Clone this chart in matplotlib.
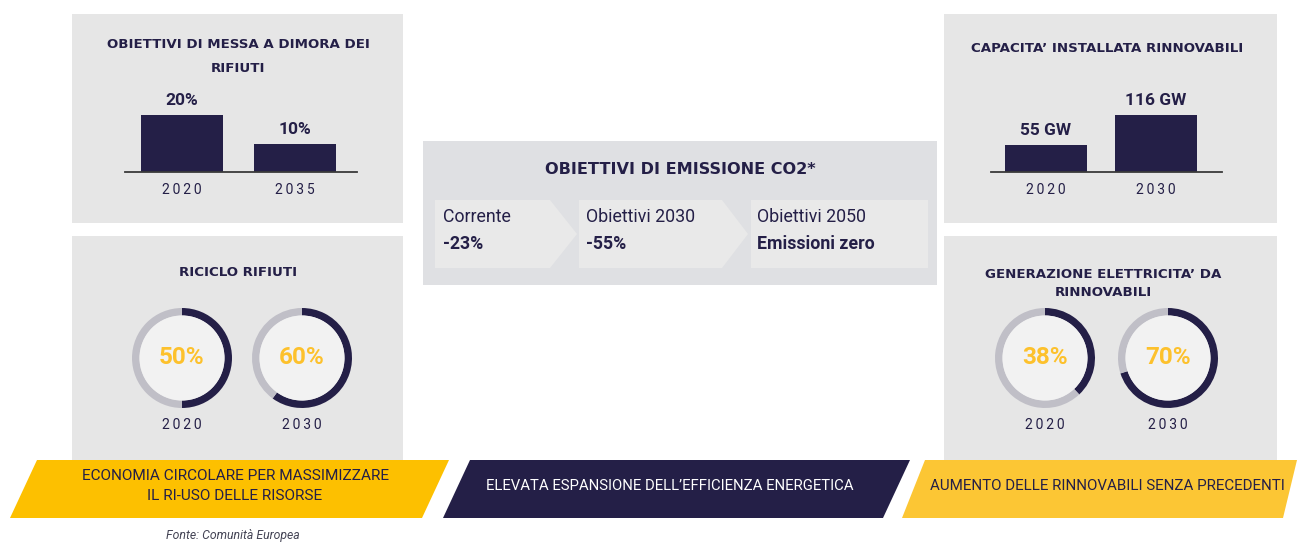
import matplotlib
matplotlib.use("Agg")
import matplotlib.pyplot as plt
from matplotlib.patches import Rectangle, Polygon, Circle

# ─────────────────────────────────────────────────────────
# Data
# ─────────────────────────────────────────────────────────
landfill_years = ["2020", "2035"]
landfill_values = [20, 10]
landfill_labels = ["20%", "10%"]

capacity_years = ["2020", "2030"]
capacity_values = [55, 116]
capacity_labels = ["55 GW", "116 GW"]

recycle_years = ["2020", "2030"]
recycle_values = [50, 60]

renew_gen_years = ["2020", "2030"]
renew_gen_values = [38, 70]

co2_steps = ["Corrente", "Obiettivi 2030", "Obiettivi 2050"]
co2_targets = ["-23%", "-55%", "Emissioni zero"]

banner_texts = [
    "ECONOMIA CIRCOLARE PER MASSIMIZZARE\nIL RI-USO DELLE RISORSE",
    "ELEVATA ESPANSIONE DELL\u2019EFFICIENZA ENERGETICA",
    "AUMENTO DELLE RINNOVABILI SENZA PRECEDENTI",
]

# ─────────────────────────────────────────────────────────
# Style
# ─────────────────────────────────────────────────────────
NAVY = "#241f47"
PANEL = "#e6e6e6"
PANEL_MID = "#dfe0e3"
BOX = "#e9e9e9"
RING = "#c0bfc7"
INNER = "#f2f2f2"
YELLOW_L = "#fdc000"
YELLOW_R = "#fcc634"
NUM_YELLOW = "#fdc12c"

W, H = 1297, 543
TITLE_FONT = ["DejaVu Sans"]
BODY = ["Roboto", "DejaVu Sans"]

fig = plt.figure(figsize=(W / 100, H / 100), dpi=100)
fig.patch.set_facecolor("white")
bg = fig.add_axes([0, 0, 1, 1])
bg.set_xlim(0, W)
bg.set_ylim(H, 0)
bg.axis("off")
renderer = fig.canvas.get_renderer()


def fax(x0, y0, x1, y1):
    """Axes from pixel box (top-left origin)."""
    return fig.add_axes([x0 / W, (H - y1) / H, (x1 - x0) / W, (y1 - y0) / H])


def spaced(s):
    return "\u2009".join(s)


def fit_width(t, target):
    # shrink/grow a text so its widest line is about `target` px
    w = t.get_window_extent(renderer).width
    t.set_fontsize(t.get_fontsize() * target / w)


# panels
for x0, y0, x1, y1 in [(72, 14, 403, 223), (72, 236, 403, 462),
                       (944, 14, 1277, 223), (944, 236, 1277, 462)]:
    bg.add_patch(Rectangle((x0, y0), x1 - x0, y1 - y0, color=PANEL, lw=0))
bg.add_patch(Rectangle((423, 141), 514, 144, color=PANEL_MID, lw=0))

# titles
title_kw = dict(ha="center", va="center", fontsize=9.6, fontweight="bold",
                color=NAVY, family=TITLE_FONT)
bg.text(238, 44, "OBIETTIVI DI MESSA A DIMORA DEI", **title_kw)
bg.text(238, 69, "RIFIUTI", **title_kw)
bg.text(1107, 48, "CAPACITA\u2019 INSTALLATA RINNOVABILI", **title_kw)
bg.text(238, 273, "RICICLO RIFIUTI", **title_kw)
bg.text(1103, 274, "GENERAZIONE ELETTRICITA\u2019 DA", **title_kw)
bg.text(1103, 293, "RINNOVABILI", **title_kw)


# ─────────────────────────────────────────────────────────
# Bar charts
# ─────────────────────────────────────────────────────────
def bar_chart(box, xlim, width, years, values, labels):
    ax = fax(*box)
    ax.set_facecolor("none")
    ax.bar(range(len(values)), values, width=width, color=NAVY)
    ax.set_xlim(*xlim)
    ax.set_ylim(0, max(values))
    for s in ["top", "right", "left"]:
        ax.spines[s].set_visible(False)
    ax.spines["bottom"].set_color("#3a3a3a")
    ax.spines["bottom"].set_linewidth(1.3)
    ax.set_yticks([])
    ax.set_xticks(range(len(values)))
    ax.set_xticklabels([spaced(y) for y in years], fontsize=10, color=NAVY,
                       family=BODY)
    ax.tick_params(axis="x", length=0, pad=8)
    for i, (v, lab) in enumerate(zip(values, labels)):
        ax.annotate(lab, (i, v), xytext=(0, 5), textcoords="offset points",
                    ha="center", va="bottom", fontsize=12.5, fontweight="bold",
                    color=NAVY, family=BODY, annotation_clip=False)


bar_chart((125, 115, 357, 172), (-0.504, 1.549), 0.72,
          landfill_years, landfill_values, landfill_labels)
bar_chart((991, 115, 1222, 172), (-0.5, 1.6), 0.745,
          capacity_years, capacity_values, capacity_labels)


# ─────────────────────────────────────────────────────────
# Donuts
# ─────────────────────────────────────────────────────────
def donut(cx, cy, value, year, r=50):
    ax = fax(cx - r, cy - r, cx + r, cy + r)
    ax.pie([value, 100 - value], colors=[NAVY, RING], startangle=90,
           counterclock=False, radius=1, wedgeprops=dict(width=0.15, lw=0))
    ax.add_patch(Circle((0, 0), 0.85, color=INNER, lw=0))
    ax.set_xlim(-1, 1)
    ax.set_ylim(-1, 1)
    ax.set_aspect("auto")
    ax.axis("off")
    ax.text(0, 0, f"{value}%", ha="center", va="center", fontsize=17.5,
            fontweight="bold", color=NUM_YELLOW, family=BODY)
    bg.text(cx, cy + 67, spaced(year), ha="center", va="center", fontsize=10,
            color=NAVY, family=BODY)


for cx, v, y in zip([182, 302], recycle_values, recycle_years):
    donut(cx, 358, v, y)
for cx, v, y in zip([1045, 1168], renew_gen_values, renew_gen_years):
    donut(cx, 358, v, y)

# ─────────────────────────────────────────────────────────
# CO2 panel
# ─────────────────────────────────────────────────────────
bg.text(680, 170, "OBIETTIVI DI EMISSIONE CO2*", ha="center", va="center",
        fontsize=11.6, fontweight="bold", color=NAVY, family=TITLE_FONT)
top, bot = 200, 268
mid = (top + bot) / 2
shapes = [
    [(435, top), (550, top), (577, mid), (550, bot), (435, bot)],
    [(579, top), (722, top), (748, mid), (722, bot), (579, bot)],
    [(751, top), (928, top), (928, bot), (751, bot)],
]
text_x = [443, 586, 757]
for pts, tx, step, tgt in zip(shapes, text_x, co2_steps, co2_targets):
    bg.add_patch(Polygon(pts, closed=True, color=BOX, lw=0))
    bg.text(tx, 217, step, ha="left", va="center", fontsize=12.8,
            color=NAVY, family=BODY)
    bg.text(tx, 244, tgt, ha="left", va="center", fontsize=12.8,
            fontweight="bold", color=NAVY, family=BODY)

# ─────────────────────────────────────────────────────────
# Banners
# ─────────────────────────────────────────────────────────
b_top, b_bot = 460, 518
banners = [
    ([(37, b_top), (449, b_top), (422, b_bot), (10, b_bot)], YELLOW_L, NAVY, 235, 307),
    ([(470, b_top), (910, b_top), (883, b_bot), (443, b_bot)], NAVY, "white", 670, 366),
    ([(925, b_top), (1297, b_top), (1283, b_bot), (902, b_bot)], YELLOW_R, NAVY, 1107, 354),
]
for (pts, fc, tc, tx, tw), txt in zip(banners, banner_texts):
    bg.add_patch(Polygon(pts, closed=True, color=fc, lw=0))
    t = bg.text(tx, 486, txt, ha="center", va="center", fontsize=12,
                color=tc, family=BODY, linespacing=1.55)
    fit_width(t, tw)

bg.text(233, 536, "Fonte: Comunit\u00e0 Europea", ha="center", va="center",
        fontsize=8.8, style="italic", color="#444455", family=BODY)

fig.savefig("out.png", dpi=100, facecolor="white")
